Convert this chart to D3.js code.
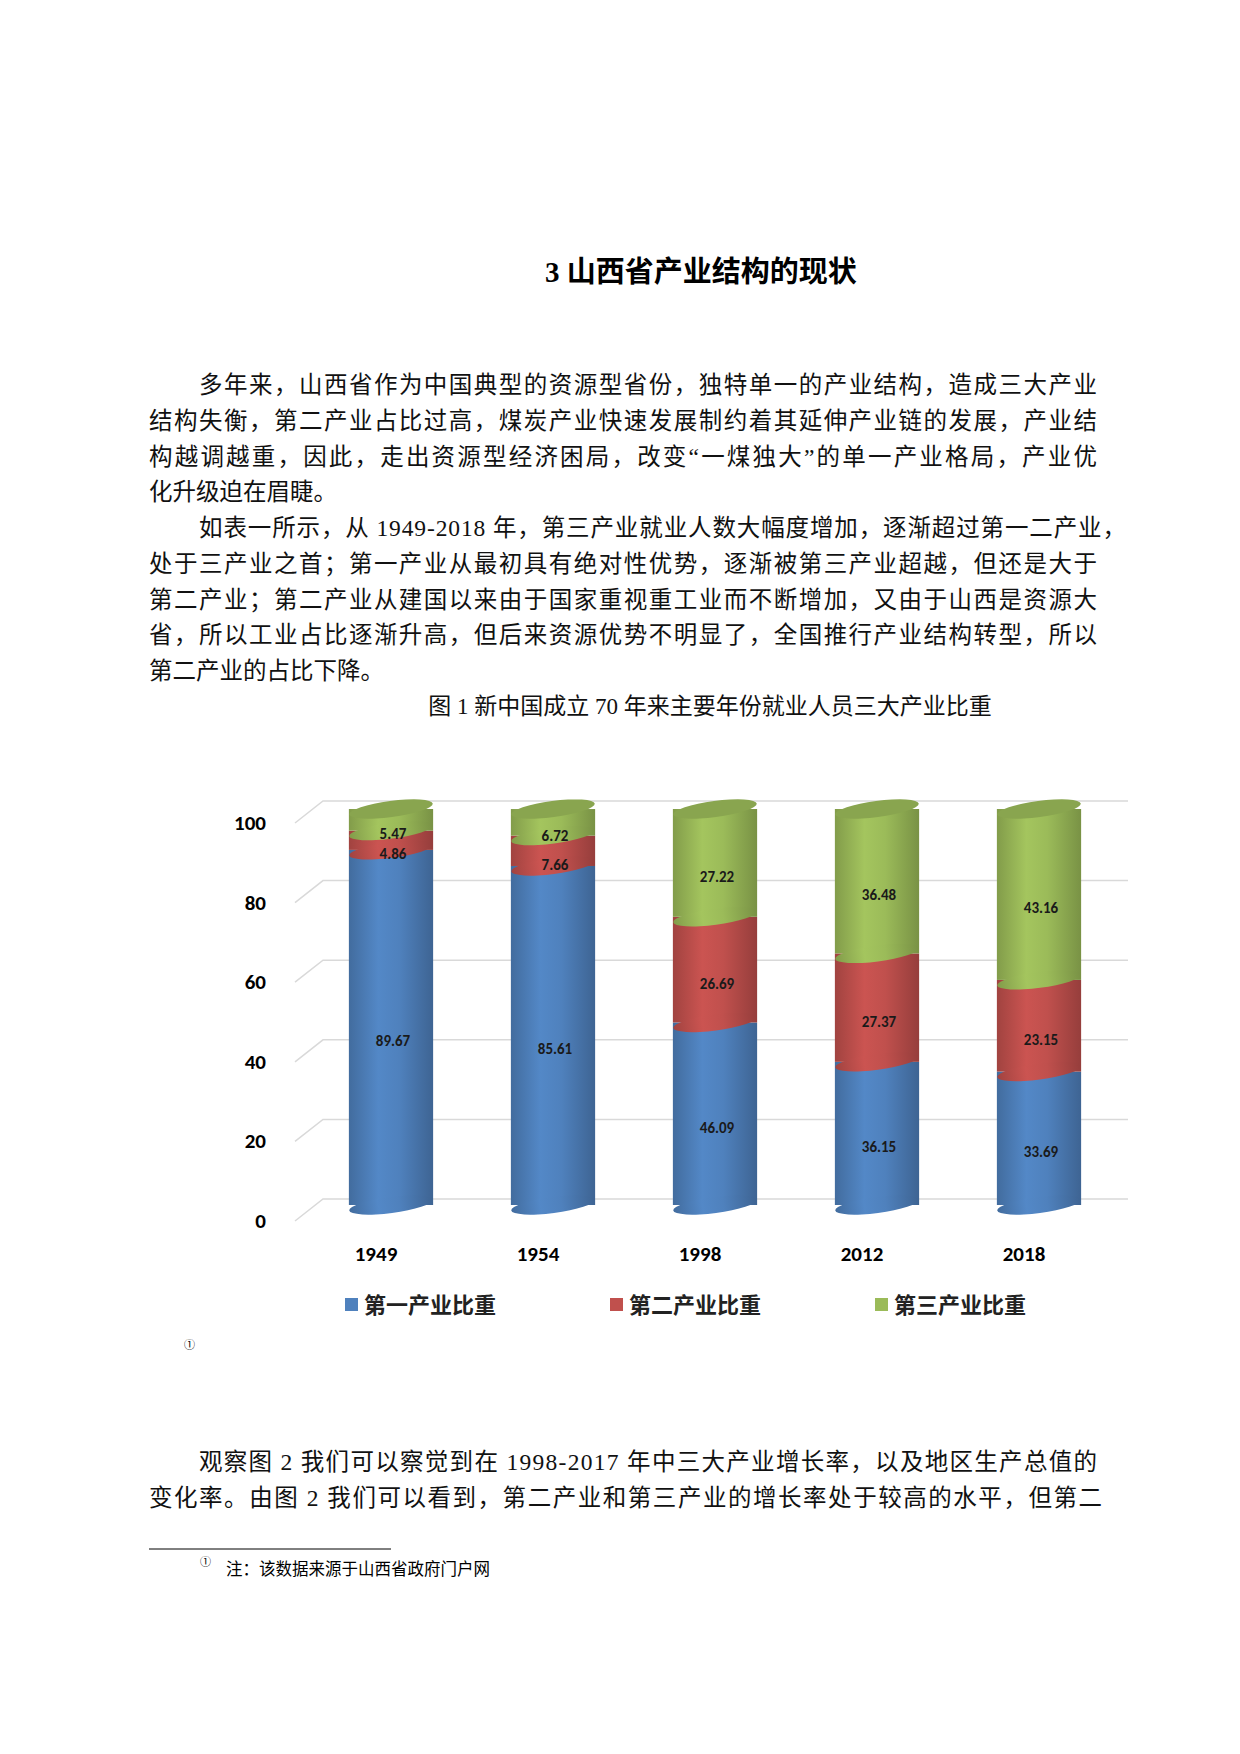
<!DOCTYPE html>
<html><head><meta charset="utf-8">
<script src="https://cdn.jsdelivr.net/npm/d3@7"></script>
<style>body{margin:0;background:#fff}</style>
</head><body>
<script>
'use strict'

const years = ['1949', '1954', '1998', '2012', '2018']
const primary = [89.67, 85.61, 46.09, 36.15, 33.69]
const secondary = [4.86, 7.66, 26.69, 27.37, 23.15]
const tertiary = [5.47, 6.72, 27.22, 36.48, 43.16]
const seriesNames = ['第一产业比重', '第二产业比重', '第三产业比重']
const yTicks = [0, 20, 40, 60, 80, 100]

const para1 = [
  '多年来，山西省作为中国典型的资源型省份，独特单一的产业结构，造成三大产业',
  '结构失衡，第二产业占比过高，煤炭产业快速发展制约着其延伸产业链的发展，产业结',
  '构越调越重，因此，走出资源型经济困局，改变“一煤独大”的单一产业格局，产业优',
  '化升级迫在眉睫。'
]
const para2 = [
  '如表一所示，从 1949-2018 年，第三产业就业人数大幅度增加，逐渐超过第一二产业，',
  '处于三产业之首；第一产业从最初具有绝对性优势，逐渐被第三产业超越，但还是大于',
  '第二产业；第二产业从建国以来由于国家重视重工业而不断增加，又由于山西是资源大',
  '省，所以工业占比逐渐升高，但后来资源优势不明显了，全国推行产业结构转型，所以',
  '第二产业的占比下降。'
]
const para3 = [
  '观察图 2 我们可以察觉到在 1998-2017 年中三大产业增长率，以及地区生产总值的',
  '变化率。由图 2 我们可以看到，第二产业和第三产业的增长率处于较高的水平，但第二'
]

const serif = '"Liberation Serif", "Noto Sans CJK SC", serif'
const sans = 'Calibri, Carlito, "Liberation Sans", "Noto Sans CJK SC", sans-serif'

const svg = d3.select('body').append('svg').attr('width', 1240).attr('height', 1754)

svg.append('text').attr('x', 701).attr('y', 282).attr('text-anchor', 'middle')
  .attr('font-family', serif).attr('font-size', 29).attr('font-weight', 'bold')
  .text('3 山西省产业结构的现状')

// justified paragraph lines
const drawPara = (lines, y0, widths) => {
  lines.forEach((s, i) => {
    const indent = i === 0
    const x = indent ? 199 : 149
    const t = svg.append('text').attr('x', x).attr('y', y0 + i * 35.8)
      .attr('font-family', serif).attr('font-size', 23.5).attr('fill', '#111').text(s)
    const w = widths(i, lines.length)
    if (w) t.attr('textLength', w - x).attr('lengthAdjust', 'spacing')
  })
}
drawPara(para1, 393, (i, n) => i < n - 1 ? 1097 : null)
drawPara(para2, 536, (i, n) => i === 0 ? 1126 : (i < n - 1 ? 1097 : null))
drawPara(para3, 1470, (i) => i === 0 ? 1097 : 1102)

svg.append('text').attr('x', 710).attr('y', 714).attr('text-anchor', 'middle')
  .attr('font-family', serif).attr('font-size', 23).attr('fill', '#111')
  .text('图 1 新中国成立 70 年来主要年份就业人员三大产业比重')

// chart
const y = d3.scaleLinear().domain([0, 100]).range([1205, 809])
const yGrid = d3.scaleLinear().domain([0, 100]).range([1199, 801])
const x = d3.scaleBand().domain(years).range([310, 1120]).paddingInner(0.48).paddingOuter(0.24)

const g = svg.append('g')
yTicks.forEach(v => {
  const yy = yGrid(v)
  g.append('path').attr('d', `M295,${yy + 22}L323,${yy}L1128,${yy}`)
    .attr('fill', 'none').attr('stroke', '#d9d9d9').attr('stroke-width', 1.5)
  g.append('text').attr('x', 266).attr('y', yy + 29).attr('text-anchor', 'end')
    .attr('font-family', sans).attr('font-weight', 'bold').attr('font-size', 21).text(v)
})

const colors = ['#4F81BD', '#C0504D', '#9BBB59']
const defs = svg.append('defs')
const shade = (c, k) => d3.color(c).darker(k).formatHex()
colors.forEach((c, i) => {
  const gr = defs.append('linearGradient').attr('id', 'gr' + i)
  gr.append('stop').attr('offset', 0).attr('stop-color', shade(c, 0.5))
  gr.append('stop').attr('offset', 0.35).attr('stop-color', d3.color(c).brighter(0.15).formatHex())
  gr.append('stop').attr('offset', 0.6).attr('stop-color', c)
  gr.append('stop').attr('offset', 1).attr('stop-color', shade(c, 0.7))
})

const series = [primary, secondary, tertiary]
const tilt = -7.5
const ry = 8
years.forEach((yr, j) => {
  const x0 = x(yr), w = x.bandwidth(), cx = x0 + w / 2, rx = w / 2
  let base = 0
  const cg = g.append('g')
  series.forEach((s, i) => {
    const v = s[j], top = base + v
    cg.append('rect').attr('x', x0).attr('width', w)
      .attr('y', y(top)).attr('height', y(base) - y(top)).attr('fill', `url(#gr${i})`)
    cg.append('ellipse').attr('cx', cx).attr('cy', y(base)).attr('rx', rx).attr('ry', ry)
      .attr('transform', `rotate(${tilt},${cx},${y(base)})`).attr('fill', `url(#gr${i})`)
    base = top
  })
  cg.append('ellipse').attr('cx', cx).attr('cy', y(base)).attr('rx', rx).attr('ry', ry)
    .attr('transform', `rotate(${tilt},${cx},${y(base)})`).attr('fill', shade(colors[2], 0.35))
  base = 0
  series.forEach((s) => {
    const v = s[j]
    cg.append('text').attr('x', cx + 2).attr('y', y(base + v / 2) + 19)
      .attr('text-anchor', 'middle').attr('font-family', sans).attr('font-weight', 'bold')
      .attr('font-size', 15).attr('fill', '#1a1a1a').text(v.toFixed(2))
    base += v
  })
  g.append('text').attr('x', cx - 15).attr('y', 1261).attr('text-anchor', 'middle')
    .attr('font-family', sans).attr('font-weight', 'bold').attr('font-size', 21).text(yr)
})

// legend
const legX = [345, 610, 875]
seriesNames.forEach((n, i) => {
  g.append('rect').attr('x', legX[i]).attr('y', 1298).attr('width', 13).attr('height', 13).attr('fill', colors[i])
  g.append('text').attr('x', legX[i] + 19).attr('y', 1313).attr('font-family', '"Noto Sans CJK SC", sans-serif')
    .attr('font-weight', 'bold').attr('font-size', 22).attr('fill', '#222').text(n)
})

svg.append('text').attr('x', 184).attr('y', 1349).attr('font-family', serif).attr('font-size', 11).text('①')

svg.append('line').attr('x1', 149).attr('x2', 391).attr('y1', 1549).attr('y2', 1549).attr('stroke', '#000').attr('stroke-width', 1)
svg.append('text').attr('x', 200).attr('y', 1566).attr('font-family', serif).attr('font-size', 11).text('①')
svg.append('text').attr('x', 226).attr('y', 1575).attr('font-family', serif).attr('font-size', 16.5).text('注：该数据来源于山西省政府门户网')
</script>
</body></html>
